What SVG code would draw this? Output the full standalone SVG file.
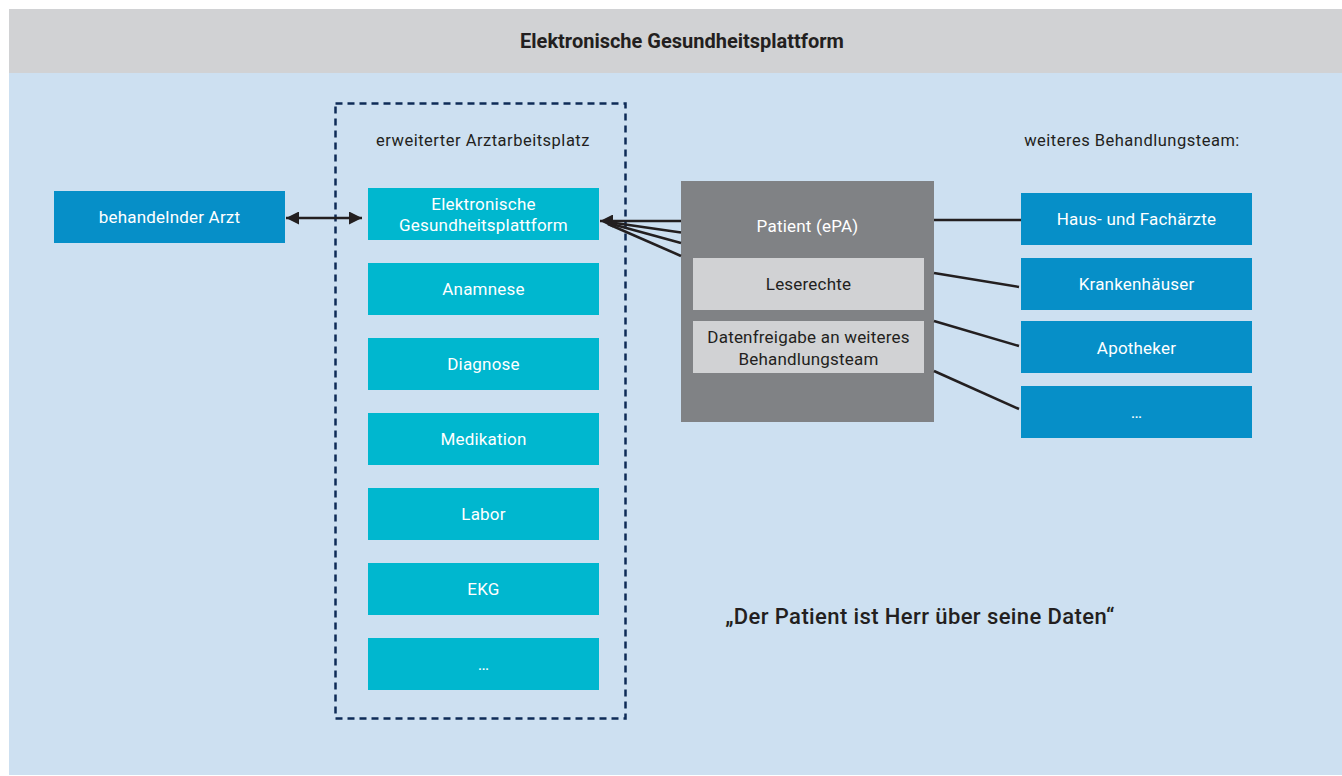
<svg xmlns="http://www.w3.org/2000/svg" width="1342" height="776" viewBox="0 0 1342 776">
<style>
text{font-family:Roboto,"Liberation Sans",sans-serif;font-size:17px;text-anchor:middle;letter-spacing:0.2px;}
.w{fill:#ffffff;}
.d{fill:#231f20;}
.lbl{font-size:16.5px;letter-spacing:0.5px;}
.blue{fill:#068fc8;}
.cyan{fill:#00b7cf;}
.lg{fill:#d1d2d4;}
.ln{stroke:#231f20;stroke-width:2.5;fill:none;}
</style>
<defs>
<marker id="ah" viewBox="0 0 10 10" refX="10" refY="5" markerWidth="13" markerHeight="13" markerUnits="userSpaceOnUse" orient="auto-start-reverse">
<path d="M0,0 L10,5 L0,10 z" fill="#231f20"/>
</marker>
</defs>
<rect x="9" y="9" width="1333" height="766" fill="#cde0f1"/>
<g id="header">
<rect x="9" y="9" width="1333" height="64" fill="#d1d2d4"/>
<text x="682" y="48" class="d" style="font-weight:bold;font-size:20px;letter-spacing:0">Elektronische Gesundheitsplattform</text>
</g>
<g id="arbeitsplatz">
<rect x="335.5" y="103.5" width="290" height="615" fill="none" stroke="#0e2b57" stroke-width="2.5" stroke-dasharray="7,5"/>
<text x="483" y="146" class="d lbl">erweiterter Arztarbeitsplatz</text>
</g>
<g id="arzt"><rect x="54" y="191" width="231" height="52" class="blue"/><text x="169.5" y="223" class="w">behandelnder Arzt</text></g>
<g id="egp"><rect x="368" y="188" width="231" height="52" class="cyan"/><text x="483.5" y="210" class="w">Elektronische</text><text x="483.5" y="231" class="w">Gesundheitsplattform</text></g>
<g id="anamnese"><rect x="368" y="263" width="231" height="52" class="cyan"/><text x="483.5" y="295" class="w">Anamnese</text></g>
<g id="diagnose"><rect x="368" y="338" width="231" height="52" class="cyan"/><text x="483.5" y="370" class="w">Diagnose</text></g>
<g id="medikation"><rect x="368" y="413" width="231" height="52" class="cyan"/><text x="483.5" y="445" class="w">Medikation</text></g>
<g id="labor"><rect x="368" y="488" width="231" height="52" class="cyan"/><text x="483.5" y="520" class="w">Labor</text></g>
<g id="ekg"><rect x="368" y="563" width="231" height="52" class="cyan"/><text x="483.5" y="595" class="w">EKG</text></g>
<g id="more1"><rect x="368" y="638" width="231" height="52" class="cyan"/><text x="483.5" y="670" class="w">…</text></g>
<g id="patient">
<rect x="681" y="181" width="253" height="241" fill="#808285"/>
<text x="807.5" y="232" class="w">Patient (ePA)</text>
<rect x="693" y="258" width="231" height="52" class="lg"/>
<text x="808.5" y="290" class="d">Leserechte</text>
<rect x="693" y="321" width="231" height="52" class="lg"/>
<text x="808.5" y="343" class="d">Datenfreigabe an weiteres</text>
<text x="808.5" y="365" class="d">Behandlungsteam</text>
</g>
<g id="team-label"><text x="1132" y="146" class="d lbl">weiteres Behandlungsteam:</text></g>
<g id="hausaerzte"><rect x="1021" y="193" width="231" height="52" class="blue"/><text x="1136.5" y="225" class="w">Haus- und Fachärzte</text></g>
<g id="krankenhaeuser"><rect x="1021" y="258" width="231" height="52" class="blue"/><text x="1136.5" y="290" class="w">Krankenhäuser</text></g>
<g id="apotheker"><rect x="1021" y="321" width="231" height="52" class="blue"/><text x="1136.5" y="354" class="w">Apotheker</text></g>
<g id="more2"><rect x="1021" y="386" width="231" height="52" class="blue"/><text x="1136.5" y="418" class="w">…</text></g>
<g id="connectors">
<line x1="286" y1="218" x2="362" y2="218" class="ln" marker-start="url(#ah)" marker-end="url(#ah)"/>
<line x1="681" y1="221" x2="600" y2="221" class="ln" marker-end="url(#ah)"/>
<line x1="681" y1="232.5" x2="608" y2="222" class="ln"/>
<line x1="681" y1="243" x2="608" y2="223" class="ln"/>
<line x1="681" y1="256" x2="608" y2="224" class="ln"/>
<line x1="934" y1="220" x2="1021" y2="220" class="ln"/>
<line x1="934" y1="273" x2="1019" y2="287" class="ln"/>
<line x1="934" y1="321" x2="1019" y2="346" class="ln"/>
<line x1="934" y1="371" x2="1019" y2="409" class="ln"/>
</g>
<g id="quote"><text x="920" y="624" class="d" style="font-size:22px;font-weight:500;letter-spacing:0.4px">„Der Patient ist Herr über seine Daten“</text></g>
</svg>
